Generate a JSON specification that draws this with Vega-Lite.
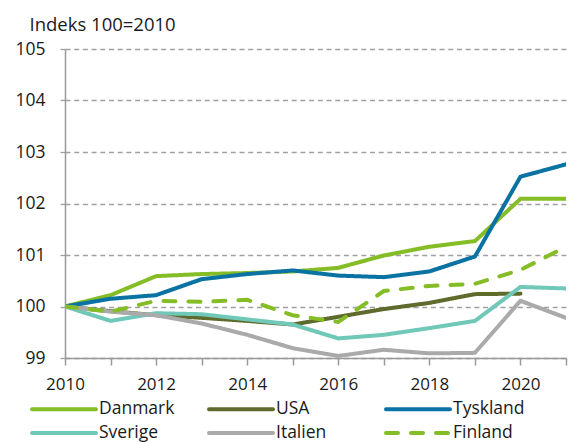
{
  "$schema": "https://vega.github.io/schema/vega-lite/v6.json",
  "width": 501,
  "height": 309,
  "autosize": {"type": "none"},
  "padding": {"left": 65, "top": 49, "right": 14, "bottom": 84},
  "config": {
    "font": "Open Sans",
    "view": {"stroke": null},
    "axis": {"labelFont": "Open Sans", "titleFont": "Open Sans", "labelColor": "#1a1a1a", "titleColor": "#1a1a1a"},
    "legend": {"labelFont": "Open Sans"}
  },
  "datasets": {
    "d": [
      {"year": 2010, "country": "Danmark", "value": 100},
      {"year": 2011, "country": "Danmark", "value": 100.22},
      {"year": 2012, "country": "Danmark", "value": 100.59},
      {"year": 2013, "country": "Danmark", "value": 100.63},
      {"year": 2014, "country": "Danmark", "value": 100.65},
      {"year": 2015, "country": "Danmark", "value": 100.68},
      {"year": 2016, "country": "Danmark", "value": 100.75},
      {"year": 2017, "country": "Danmark", "value": 100.99},
      {"year": 2018, "country": "Danmark", "value": 101.16},
      {"year": 2019, "country": "Danmark", "value": 101.27},
      {"year": 2020, "country": "Danmark", "value": 102.09},
      {"year": 2021, "country": "Danmark", "value": 102.09},
      {"year": 2010, "country": "USA", "value": 100},
      {"year": 2011, "country": "USA", "value": 99.91},
      {"year": 2012, "country": "USA", "value": 99.83},
      {"year": 2013, "country": "USA", "value": 99.78},
      {"year": 2014, "country": "USA", "value": 99.72},
      {"year": 2015, "country": "USA", "value": 99.65},
      {"year": 2016, "country": "USA", "value": 99.8},
      {"year": 2017, "country": "USA", "value": 99.95},
      {"year": 2018, "country": "USA", "value": 100.07},
      {"year": 2019, "country": "USA", "value": 100.24},
      {"year": 2020, "country": "USA", "value": 100.25},
      {"year": 2010, "country": "Tyskland", "value": 100},
      {"year": 2011, "country": "Tyskland", "value": 100.15},
      {"year": 2012, "country": "Tyskland", "value": 100.22},
      {"year": 2013, "country": "Tyskland", "value": 100.53},
      {"year": 2014, "country": "Tyskland", "value": 100.63},
      {"year": 2015, "country": "Tyskland", "value": 100.7},
      {"year": 2016, "country": "Tyskland", "value": 100.6},
      {"year": 2017, "country": "Tyskland", "value": 100.57},
      {"year": 2018, "country": "Tyskland", "value": 100.68},
      {"year": 2019, "country": "Tyskland", "value": 100.97},
      {"year": 2020, "country": "Tyskland", "value": 102.52},
      {"year": 2021, "country": "Tyskland", "value": 102.76},
      {"year": 2010, "country": "Sverige", "value": 100},
      {"year": 2011, "country": "Sverige", "value": 99.72},
      {"year": 2012, "country": "Sverige", "value": 99.87},
      {"year": 2013, "country": "Sverige", "value": 99.85},
      {"year": 2014, "country": "Sverige", "value": 99.75},
      {"year": 2015, "country": "Sverige", "value": 99.65},
      {"year": 2016, "country": "Sverige", "value": 99.38},
      {"year": 2017, "country": "Sverige", "value": 99.45},
      {"year": 2018, "country": "Sverige", "value": 99.58},
      {"year": 2019, "country": "Sverige", "value": 99.72},
      {"year": 2020, "country": "Sverige", "value": 100.38},
      {"year": 2021, "country": "Sverige", "value": 100.35},
      {"year": 2010, "country": "Italien", "value": 100},
      {"year": 2011, "country": "Italien", "value": 99.9},
      {"year": 2012, "country": "Italien", "value": 99.83},
      {"year": 2013, "country": "Italien", "value": 99.67},
      {"year": 2014, "country": "Italien", "value": 99.45},
      {"year": 2015, "country": "Italien", "value": 99.19},
      {"year": 2016, "country": "Italien", "value": 99.04},
      {"year": 2017, "country": "Italien", "value": 99.16},
      {"year": 2018, "country": "Italien", "value": 99.09},
      {"year": 2019, "country": "Italien", "value": 99.1},
      {"year": 2020, "country": "Italien", "value": 100.11},
      {"year": 2021, "country": "Italien", "value": 99.78},
      {"year": 2010, "country": "Finland", "value": 100},
      {"year": 2011, "country": "Finland", "value": 99.9},
      {"year": 2012, "country": "Finland", "value": 100.11},
      {"year": 2013, "country": "Finland", "value": 100.09},
      {"year": 2014, "country": "Finland", "value": 100.13},
      {"year": 2015, "country": "Finland", "value": 99.83},
      {"year": 2016, "country": "Finland", "value": 99.7},
      {"year": 2017, "country": "Finland", "value": 100.3},
      {"year": 2018, "country": "Finland", "value": 100.4},
      {"year": 2019, "country": "Finland", "value": 100.44},
      {"year": 2020, "country": "Finland", "value": 100.71},
      {"year": 2021, "country": "Finland", "value": 101.16}
    ]
  },
  "data": {"name": "d"},
  "mark": {"type": "line", "strokeWidth": 4, "strokeCap": "round", "strokeJoin": "miter", "clip": true},
  "encoding": {
    "x": {
      "field": "year",
      "type": "quantitative",
      "scale": {"domain": [2010, 2021], "nice": false, "zero": false},
      "axis": {
        "title": null,
        "values": [2010, 2011, 2012, 2013, 2014, 2015, 2016, 2017, 2018, 2019, 2020, 2021],
        "labelExpr": "datum.value % 2 == 0 && datum.value < 2021 ? datum.label : ''",
        "format": "d",
        "grid": false,
        "domainColor": "#999999",
        "domainWidth": 1.5,
        "tickColor": "#999999",
        "tickWidth": 1.5,
        "tickSize": 7,
        "labelFontSize": 17,
        "labelPadding": 11,
        "labelFlush": false,
        "labelOverlap": false
      }
    },
    "y": {
      "field": "value",
      "type": "quantitative",
      "scale": {"domain": [99, 105], "nice": false, "zero": false},
      "axis": {
        "title": "Indeks 100=2010",
        "titleAngle": 0,
        "titleAlign": "left",
        "titleBaseline": "middle",
        "titleX": -36,
        "titleY": -25,
        "titleFontSize": 18.5,
        "titleFontWeight": "normal",
        "values": [99, 100, 101, 102, 103, 104, 105],
        "grid": true,
        "gridColor": "#a0a0a0",
        "gridDash": [5, 3.7],
        "gridWidth": 1.3,
        "domainColor": "#999999",
        "domainWidth": 1.5,
        "tickColor": "#a0a0a0",
        "tickDash": [5, 3.7],
        "tickWidth": 1.3,
        "tickSize": 7,
        "labelFontSize": 17.5,
        "labelPadding": 13,
        "labelFlush": false,
        "labelOverlap": false
      }
    },
    "color": {
      "field": "country",
      "type": "nominal",
      "scale": {
        "domain": ["Danmark", "Sverige", "USA", "Italien", "Tyskland", "Finland"],
        "range": ["#84bd26", "#70c8b8", "#5f6b2d", "#aaaaaa", "#0a73a3", "#84bd26"]
      },
      "legend": {
        "title": null,
        "orient": "none",
        "legendX": -11,
        "legendY": 350,
        "columns": 3,
        "gridAlign": "all",
        "columnPadding": 26,
        "rowPadding": 5,
        "symbolType": "M-4,0H4",
        "symbolSize": 256,
        "symbolStrokeWidth": 4,
        "labelOffset": 25,
        "labelFontSize": 17.5,
        "labelColor": "#1a1a1a",
        "encode": {"symbols": {"update": {"strokeCap": {"value": "round"}}}}
      }
    },
    "strokeDash": {
      "field": "country",
      "type": "nominal",
      "scale": {
        "domain": ["Danmark", "Sverige", "USA", "Italien", "Tyskland", "Finland"],
        "range": [[1, 0], [1, 0], [1, 0], [1, 0], [1, 0], [12, 13]]
      },
      "legend": null
    }
  }
}
